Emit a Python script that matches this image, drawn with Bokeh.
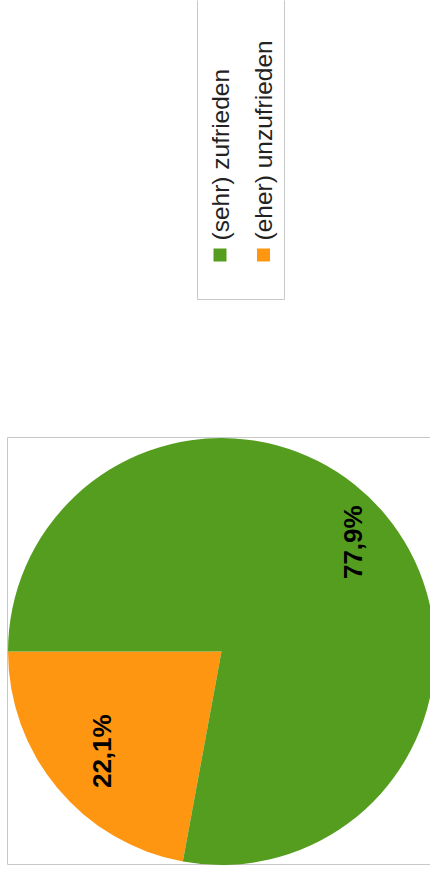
import math
from bokeh.plotting import figure
from bokeh.models import Range1d
from bokeh.core.properties import value
from bokeh.embed import file_html
from bokeh.resources import INLINE

# ---- data ----
categories = ["(sehr) zufrieden", "(eher) unzufrieden"]
shares = [77.9, 22.1]
labels = ["77,9%", "22,1%"]
colors = ["#559d1f", "#fe9612"]

W, H = 430, 876
p = figure(width=W, height=H, output_backend="svg", toolbar_location=None,
           x_range=Range1d(0, W), y_range=Range1d(0, H), min_border=0,
           outline_line_color=None, background_fill_color="white")
p.axis.visible = False
p.grid.visible = False

def sy(s):
    return H - s

# pie frame
p.quad(left=[7], right=[W + 5], bottom=[sy(864)], top=[sy(437)],
       fill_color=None, line_color="#c8c8c8", line_width=1)

# pie
cx, cy, R = 221, sy(651), 213.5
total = sum(shares)
# orange slice starts at 180 deg going counterclockwise, green follows
order = [1, 0]
start = math.pi
starts, ends, cols = {}, {}, {}
for i in order:
    a = 2 * math.pi * shares[i] / total
    starts[i] = start
    ends[i] = start + a
    start += a
for i in order:
    p.wedge(x=[cx], y=[cy], radius=R, start_angle=[starts[i]], end_angle=[ends[i]],
            fill_color=colors[i], line_color=None)

label_factor = {0: 0.80, 1: 0.73}
for i in order:
    mid = (starts[i] + ends[i]) / 2
    r = R * label_factor[i]
    p.text(x=[cx + r * math.cos(mid)], y=[cy + r * math.sin(mid)], text=[labels[i]],
           angle=math.pi / 2, text_align="center", text_baseline="middle",
           text_font=value("Liberation Sans"), text_font_style="bold",
           text_font_size="26px", text_color="black")

# legend (rotated)
p.quad(left=[197], right=[284], bottom=[sy(299)], top=[sy(-1)],
       fill_color="white", line_color="#c8c8c8", line_width=1)
leg_x = [219.5, 263]
for i, cat in enumerate(categories):
    p.rect(x=[leg_x[i]], y=[sy(254.5)], width=13, height=13,
           fill_color=colors[i], line_color=None)
    p.text(x=[leg_x[i]], y=[sy(240)], text=[cat], angle=math.pi / 2,
           text_align="left", text_baseline="middle",
           text_font=value("Liberation Sans"), text_font_size="24.5px",
           text_color="#222222")

open("out.html", "w").write(file_html(p, INLINE))
